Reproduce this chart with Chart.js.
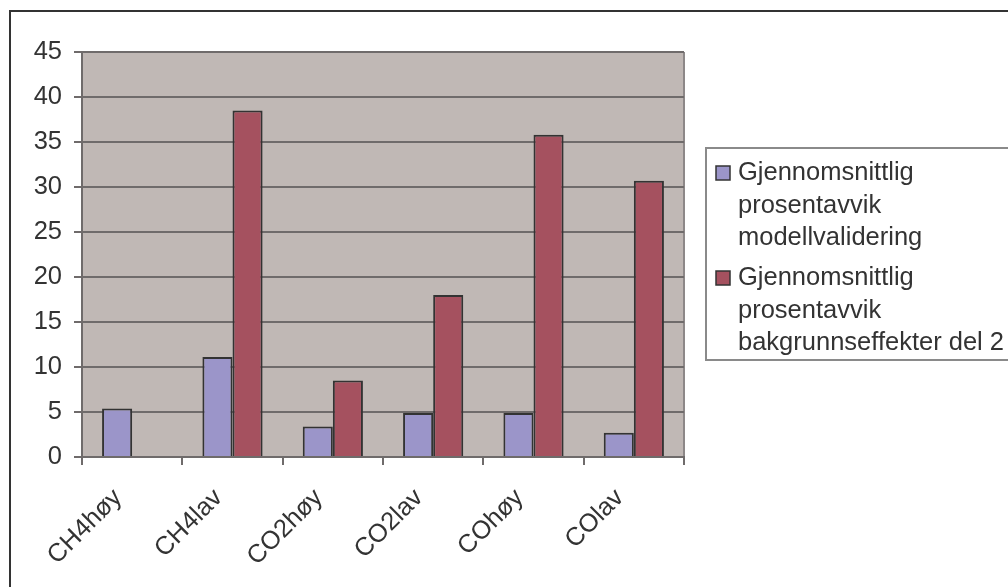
<!DOCTYPE html>
<html>
<head>
<meta charset="utf-8">
<script src="https://cdn.jsdelivr.net/npm/chart.js@4/dist/chart.umd.min.js"></script>
<style>
  html, body { margin: 0; padding: 0; background: #ffffff; }
  #wrap { width: 1008px; height: 587px; position: relative; }
</style>
</head>
<body>
<div id="wrap"><canvas id="c" width="1008" height="587"></canvas></div>
<script>
// Gasser og nivå
const categories = ['CH4høy', 'CH4lav', 'CO2høy', 'CO2lav', 'COhøy', 'COlav'];

// Gjennomsnittlig prosentavvik, modellvalidering
const modellvalidering = [5.4, 11.1, 3.4, 4.9, 4.9, 2.7];

// Gjennomsnittlig prosentavvik, bakgrunnseffekter del 2 (ingen verdi for CH4høy)
const bakgrunnseffekter = [null, 38.5, 8.5, 18.0, 35.8, 30.7];

// Verdiakse
const yMin = 0;
const yMax = 45;
const yStep = 5;

// Forklaringstekst, linje for linje
const legendLines = [
  ['Gjennomsnittlig', 'prosentavvik', 'modellvalidering'],
  ['Gjennomsnittlig', 'prosentavvik', 'bakgrunnseffekter del 2']
];

const seriesColors = ['#9B95C9', '#A5515F'];
const FONT = 'Liberation Sans, Arial, sans-serif';
const FONT_SIZE = 25.5;
const TEXT = '#333333';
const GRID = '#6f6b6b';

// Plot background, plot frame and outer chart frame
const framePlugin = {
  id: 'frame',
  beforeDraw(chart) {
    const { ctx, chartArea: a } = chart;
    ctx.save();
    ctx.fillStyle = '#ffffff';
    ctx.fillRect(0, 0, chart.width, chart.height);
    ctx.fillStyle = '#C0B8B5';
    ctx.fillRect(a.left, a.top, a.right - a.left, a.bottom - a.top);
    ctx.strokeStyle = '#8d8888';
    ctx.lineWidth = 2;
    ctx.beginPath();
    ctx.moveTo(a.right, a.top);
    ctx.lineTo(a.right, a.bottom);
    ctx.stroke();
    ctx.restore();
  },
  afterDraw(chart) {
    const { ctx } = chart;
    ctx.save();
    // outer border of the chart object
    ctx.strokeStyle = '#333333';
    ctx.lineWidth = 2;
    ctx.strokeRect(10, 11, 1200, 800);
    ctx.restore();
  }
};

// Legend box with wrapped series names
const legendPlugin = {
  id: 'wrappedLegend',
  afterDraw(chart) {
    const { ctx } = chart;
    const left = 706, top = 148, bottom = 360;
    const lineStep = 32.5, entryStep = 105;
    ctx.save();
    ctx.strokeStyle = '#8a8a8a';
    ctx.lineWidth = 2;
    ctx.strokeRect(left, top, 400, bottom - top);
    ctx.font = FONT_SIZE + 'px ' + FONT;
    ctx.textBaseline = 'alphabetic';
    ctx.textAlign = 'left';
    chart.data.datasets.forEach((ds, i) => {
      const y0 = 180 + entryStep * i;
      ctx.fillStyle = ds.backgroundColor;
      ctx.fillRect(716, y0 - 14, 14, 14);
      ctx.strokeStyle = '#333333';
      ctx.lineWidth = 1.5;
      ctx.strokeRect(716, y0 - 14, 14, 14);
      ctx.fillStyle = TEXT;
      legendLines[i].forEach((line, j) => {
        ctx.fillText(line, 738, y0 + lineStep * j);
      });
    });
    ctx.restore();
  }
};

new Chart(document.getElementById('c'), {
  type: 'bar',
  data: {
    labels: categories,
    datasets: [
      {
        label: legendLines[0].join(' '),
        data: modellvalidering,
        backgroundColor: seriesColors[0],
        borderColor: '#333333',
        borderWidth: 2
      },
      {
        label: legendLines[1].join(' '),
        data: bakgrunnseffekter,
        backgroundColor: seriesColors[1],
        borderColor: '#333333',
        borderWidth: 2
      }
    ]
  },
  options: {
    responsive: false,
    devicePixelRatio: 1,
    animation: false,
    datasets: {
      bar: { categoryPercentage: 0.6, barPercentage: 1.0 }
    },
    layout: { padding: { left: 0, right: 324, top: 52, bottom: 0 } },
    plugins: {
      legend: { display: false },
      tooltip: { enabled: false },
      title: { display: false }
    },
    scales: {
      x: {
        grid: { display: true, drawOnChartArea: false, offset: true, color: GRID, lineWidth: 2, tickLength: 8 },
        border: { color: GRID, width: 2 },
        ticks: {
          minRotation: 45, maxRotation: 45, autoSkip: false,
          color: TEXT, font: { family: FONT, size: FONT_SIZE },
          padding: 18, labelOffset: -14
        },
        afterFit(scale) { scale.height = 130; }
      },
      y: {
        min: yMin, max: yMax,
        ticks: { stepSize: yStep, color: TEXT, font: { family: FONT, size: FONT_SIZE }, padding: 12 },
        grid: { color: GRID, lineWidth: 2, tickLength: 8 },
        border: { color: GRID, width: 2 },
        afterFit(scale) { scale.width = 82; }
      }
    }
  },
  plugins: [framePlugin, legendPlugin]
});
</script>
</body>
</html>
